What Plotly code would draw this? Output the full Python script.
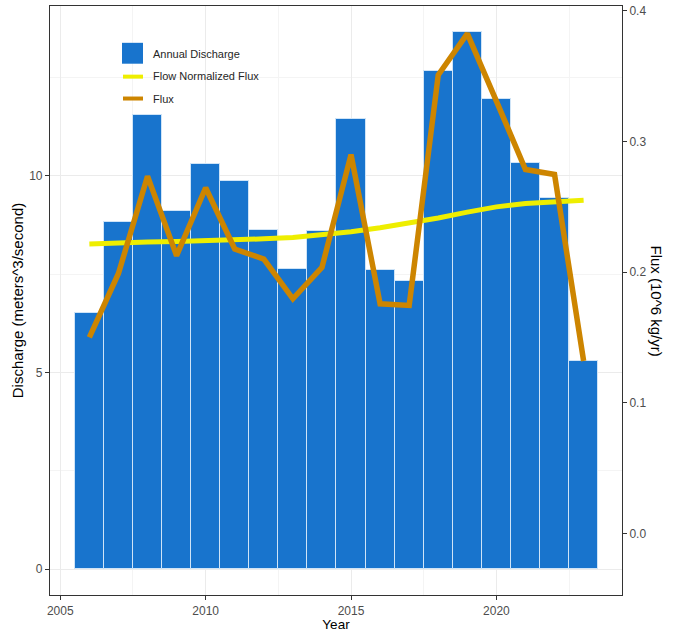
import plotly.graph_objects as go

# Water years
years = list(range(2006, 2024))

# Annual mean discharge (meters^3/second)
discharge = [6.52, 8.81, 11.54, 9.10, 10.30, 9.86, 8.62, 7.64, 8.60,
             11.44, 7.60, 7.32, 12.65, 13.64, 11.94, 10.33, 9.44, 5.28]

# Annual flux (10^6 kg/yr)
flux = [0.150, 0.199, 0.2735, 0.2126, 0.2646, 0.2177, 0.210, 0.1796, 0.2037,
        0.290, 0.1758, 0.1745, 0.351, 0.3827, 0.331, 0.2786, 0.2748, 0.132]

# Flow-normalized flux (10^6 kg/yr)
fn_flux = [0.2215, 0.2225, 0.2230, 0.2235, 0.2240, 0.2245, 0.2255, 0.2265, 0.2285,
           0.2310, 0.2340, 0.2375, 0.2415, 0.2460, 0.2500, 0.2525, 0.2540, 0.2550]

x_ticks = [2005, 2010, 2015, 2020]
y_ticks = [0, 5, 10]
y2_ticks = [0.0, 0.1, 0.2, 0.3, 0.4]

BAR_BLUE = "#1874CD"
FN_YELLOW = "#EEEE00"
FLUX_ORANGE = "#CD8500"
FONT = "Liberation Sans, Arial, sans-serif"
TICK_GREY = "#4D4D4D"
FRAME = "#333333"

fig = go.Figure()

fig.add_trace(go.Bar(
    x=years, y=discharge, width=1.0, name="Annual Discharge",
    marker=dict(color=BAR_BLUE, line=dict(color="#cfe4f7", width=1)),
    showlegend=False,
))
fig.add_trace(go.Scatter(
    x=years, y=fn_flux, mode="lines", name="Flow Normalized Flux",
    line=dict(color=FN_YELLOW, width=5), yaxis="y2", showlegend=False,
))
fig.add_trace(go.Scatter(
    x=years, y=flux, mode="lines", name="Flux",
    line=dict(color=FLUX_ORANGE, width=5.5), yaxis="y2", showlegend=False,
))

# Legend keys drawn inside the panel (pixel positions converted to paper units)
L, R, T, B = 50, 55, 4, 38
W, H = 677, 634
pw, ph = W - L - R, H - T - B


def px(x):
    return (x - L) / pw


def py(y):
    return 1 - (y - T) / ph


shapes = [
    dict(type="rect", xref="paper", yref="paper",
         x0=px(122), x1=px(143), y0=py(62), y1=py(41),
         fillcolor=BAR_BLUE, line=dict(width=0), layer="above"),
    dict(type="line", xref="paper", yref="paper",
         x0=px(123), x1=px(143), y0=py(75), y1=py(75),
         line=dict(color=FN_YELLOW, width=4), layer="above"),
    dict(type="line", xref="paper", yref="paper",
         x0=px(123), x1=px(143), y0=py(97), y1=py(97),
         line=dict(color=FLUX_ORANGE, width=4), layer="above"),
]

annotations = []
for label, yy in [("Annual Discharge", 52), ("Flow Normalized Flux", 74.5), ("Flux", 97.5)]:
    annotations.append(dict(
        text=label, xref="paper", yref="paper", x=px(151), y=py(yy),
        xanchor="left", yanchor="middle", showarrow=False,
        font=dict(family=FONT, size=11, color="#262626"),
    ))

# Secondary axis title reads top-to-bottom
annotations.append(dict(
    text="Flux (10^6 kg/yr)", xref="paper", yref="paper",
    x=px(656), y=0.5, xanchor="center", yanchor="middle",
    textangle=90, showarrow=False,
    font=dict(family=FONT, size=15, color="black"),
))

fig.update_layout(
    width=W, height=H,
    margin=dict(l=L, r=R, t=T, b=B),
    paper_bgcolor="white", plot_bgcolor="white",
    font=dict(family=FONT, size=12, color=TICK_GREY),
    bargap=0,
    shapes=shapes,
    annotations=annotations,
    xaxis=dict(
        range=[2004.646, 2024.32],
        tickmode="array", tickvals=x_ticks, ticktext=[str(v) for v in x_ticks],
        ticks="outside", ticklen=4, tickcolor=FRAME, tickwidth=1,
        tickfont=dict(family=FONT, size=12, color=TICK_GREY),
        showgrid=True, gridcolor="#EBEBEB", gridwidth=1,
        minor=dict(showgrid=True, gridcolor="#F4F4F4", gridwidth=0.6,
                   tickmode="linear", tick0=2002.5, dtick=5),
        showline=True, mirror=True, linecolor=FRAME, linewidth=1.2,
        zeroline=False,
        title=dict(text="Year", standoff=3,
                   font=dict(family=FONT, size=13.5, color="black")),
    ),
    yaxis=dict(
        range=[-0.657, 14.311],
        tickmode="array", tickvals=y_ticks, ticktext=[str(v) for v in y_ticks],
        ticks="outside", ticklen=4, tickcolor=FRAME, tickwidth=1,
        tickfont=dict(family=FONT, size=12, color=TICK_GREY),
        showgrid=True, gridcolor="#EBEBEB", gridwidth=1,
        minor=dict(showgrid=True, gridcolor="#F4F4F4", gridwidth=0.6,
                   tickmode="linear", tick0=2.5, dtick=5),
        showline=True, mirror=True, linecolor=FRAME, linewidth=1.2,
        zeroline=False,
        title=dict(text="Discharge (meters^3/second)", standoff=1,
                   font=dict(family=FONT, size=15, color="black")),
    ),
    yaxis2=dict(
        overlaying="y", side="right",
        range=[-0.0472, 0.4038],
        tickmode="array", tickvals=y2_ticks, ticktext=[f"{v:.1f}" for v in y2_ticks],
        ticks="outside", ticklen=4, tickcolor=FRAME, tickwidth=1,
        tickfont=dict(family=FONT, size=12, color=TICK_GREY),
        showgrid=False, zeroline=False, showline=False,
    ),
)

fig.write_html("out.html")
